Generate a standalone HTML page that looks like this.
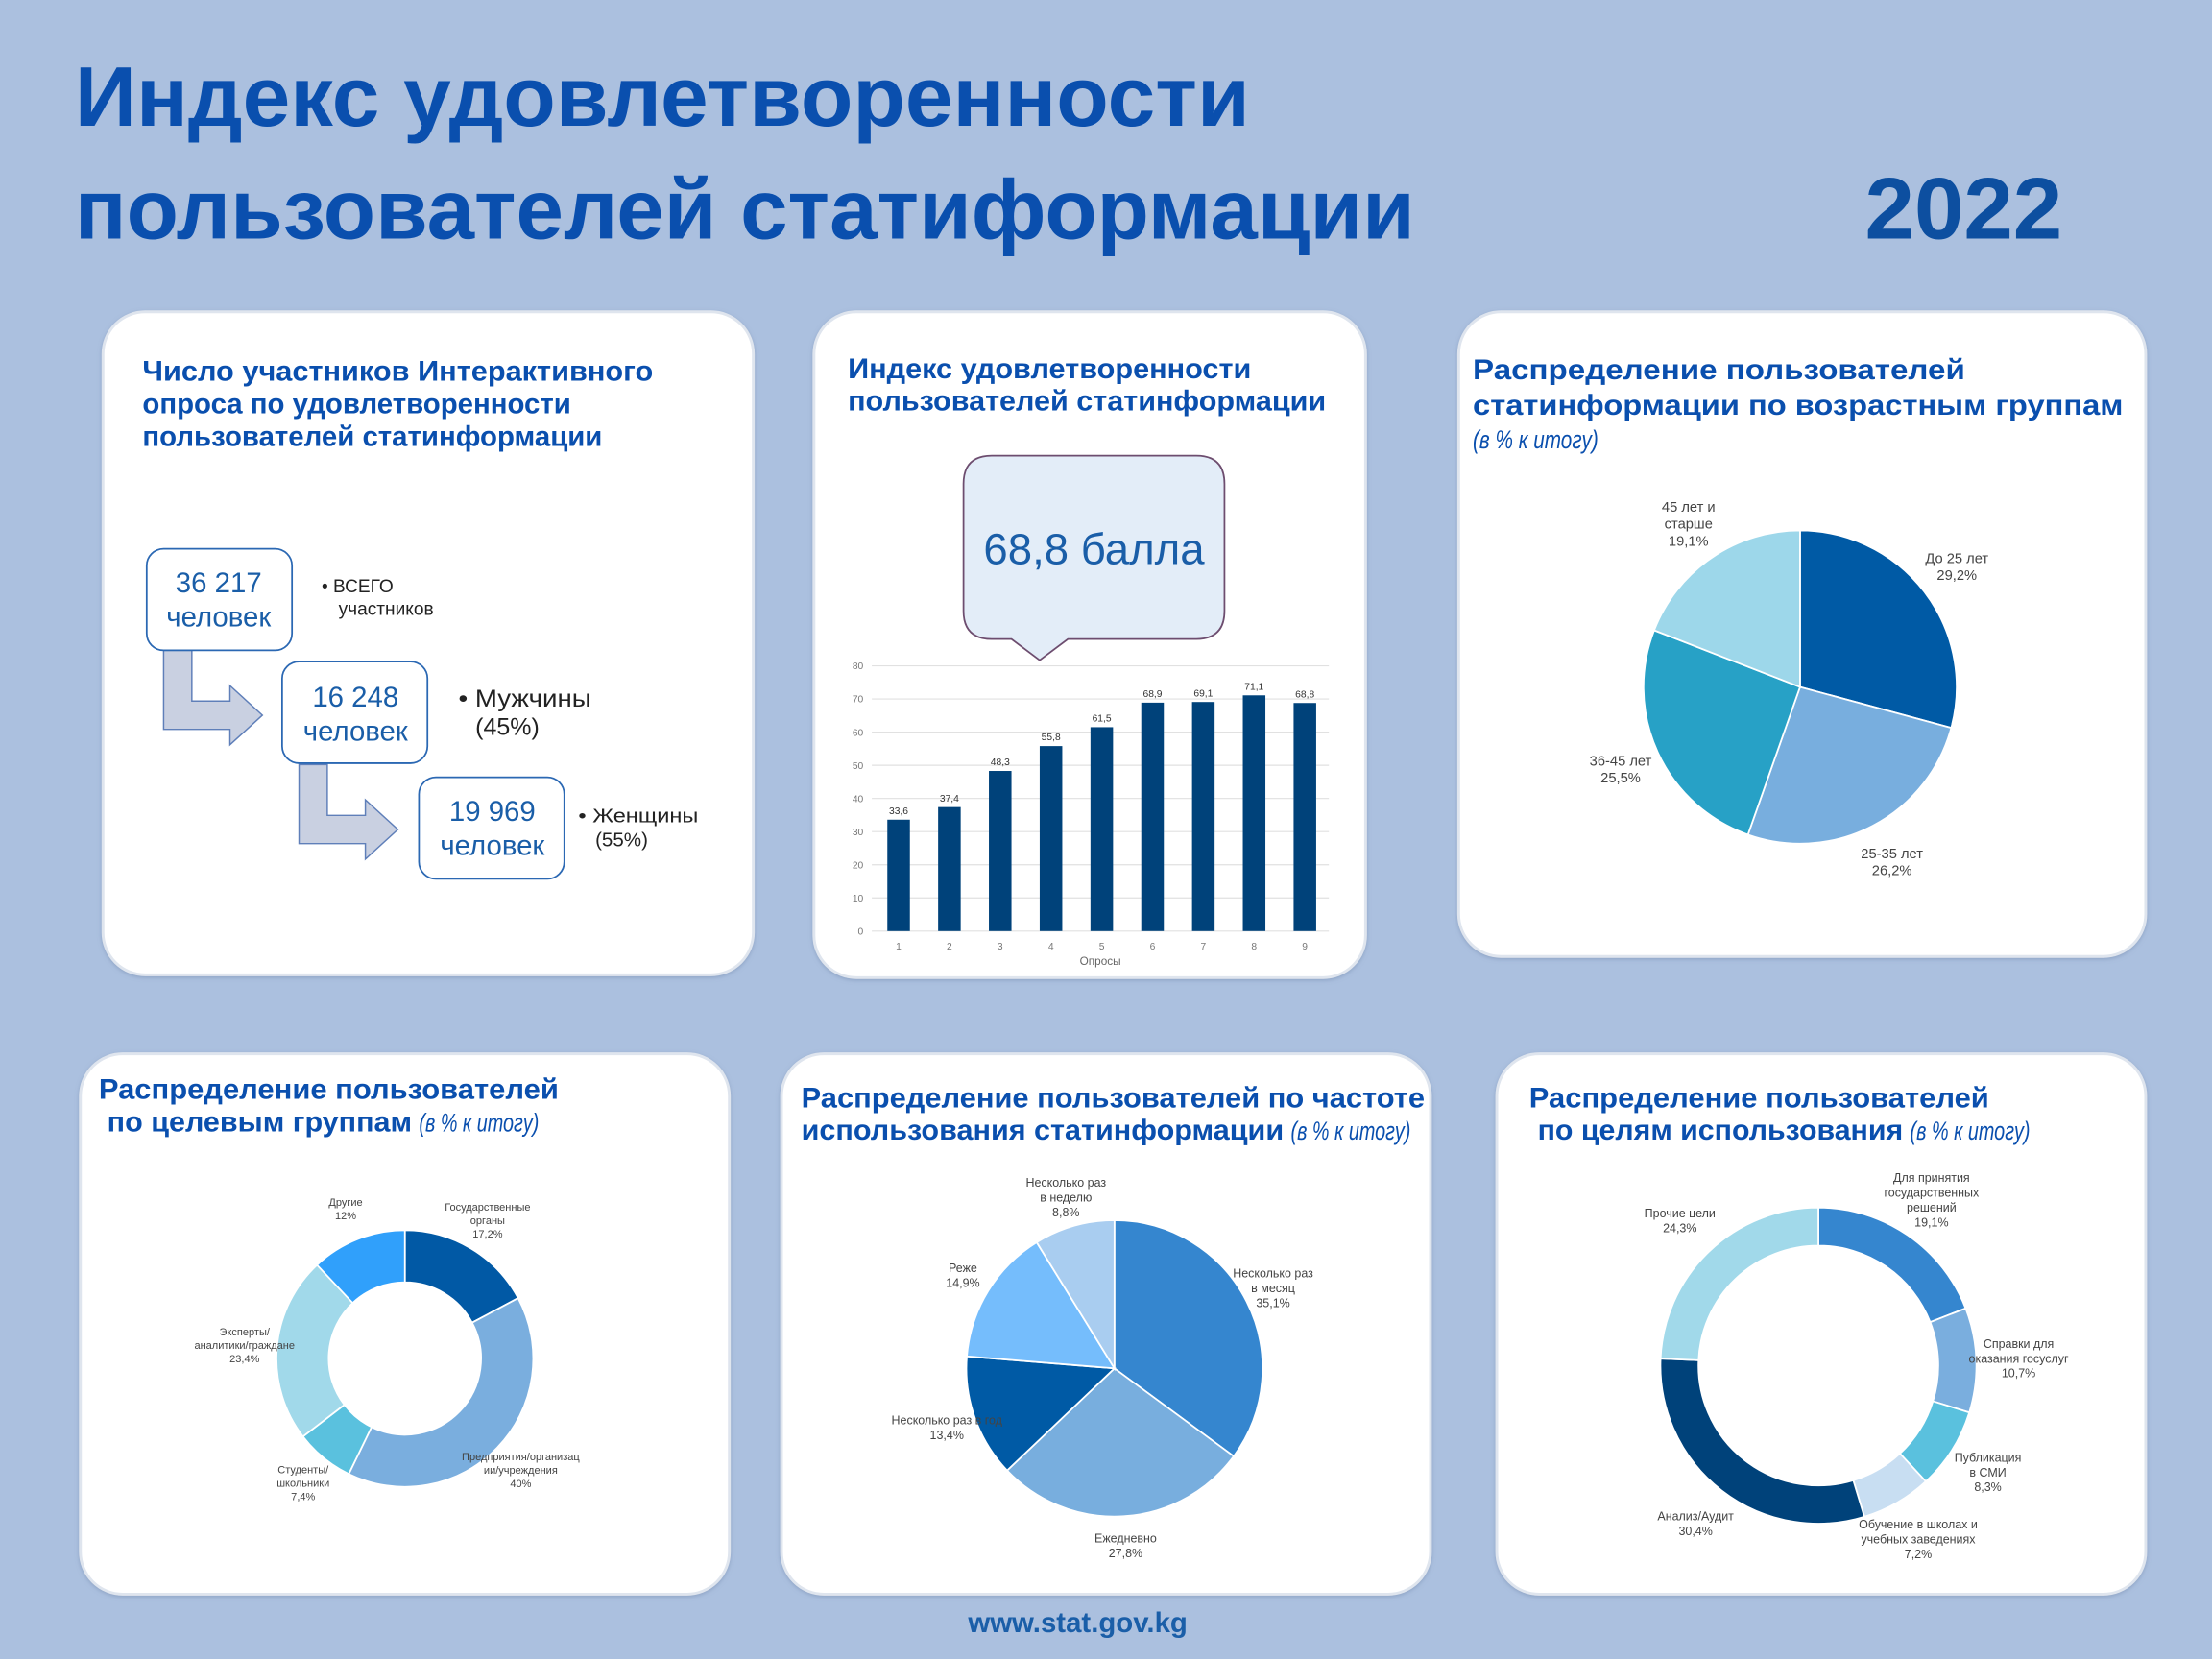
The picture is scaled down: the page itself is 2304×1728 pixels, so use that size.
<!DOCTYPE html>
<html><head><meta charset="utf-8">
<style>
html,body{margin:0;padding:0;background:#abc0df;}
svg{display:block;}
text{font-family:"Liberation Sans","DejaVu Sans",sans-serif;}
</style></head>
<body>
<svg id="root" width="2304" height="1728" viewBox="0 0 1568 1176" xmlns="http://www.w3.org/2000/svg">
<defs>
<filter id="sh" x="-5%" y="-5%" width="110%" height="110%"><feDropShadow dx="0" dy="1" stdDeviation="1.5" flood-color="#6f86aa" flood-opacity="0.5"/></filter>
</defs>
<rect x="0" y="0" width="1568" height="1176" fill="#abc0df"/>
<g fill="#0a4fae" font-weight="bold">
<text x="53" y="89" font-size="60" textLength="833" lengthAdjust="spacingAndGlyphs">Индекс удовлетворенности</text>
<text x="53" y="169" font-size="60" textLength="950" lengthAdjust="spacingAndGlyphs">пользователей статиформации</text>
</g>
<text x="1322" y="169" font-size="62" font-weight="bold" fill="#0d4fa0" textLength="140" lengthAdjust="spacingAndGlyphs">2022</text>

<g fill="#ffffff" stroke="#dfe5ee" stroke-width="2" filter="url(#sh)">
<rect x="73" y="221" width="461" height="470" rx="30"/>
<rect x="577" y="221" width="391" height="472" rx="30"/>
<rect x="1034" y="221" width="487" height="457" rx="30"/>
<rect x="57" y="747" width="460" height="383" rx="30"/>
<rect x="554" y="747" width="460" height="383" rx="30"/>
<rect x="1061" y="747" width="460" height="383" rx="30"/>
</g>

<g fill="#0a4fae" font-weight="bold" font-size="20">
<g>
<text x="101" y="270" textLength="362" lengthAdjust="spacingAndGlyphs">Число участников Интерактивного</text>
<text x="101" y="293">опроса по удовлетворенности</text>
<text x="101" y="316">пользователей статинформации</text>
</g>
<g>
<text x="601" y="268" textLength="286" lengthAdjust="spacingAndGlyphs">Индекс удовлетворенности</text>
<text x="601" y="291" textLength="339" lengthAdjust="spacingAndGlyphs">пользователей статинформации</text>
</g>
<g>
<text x="1044" y="269" textLength="349" lengthAdjust="spacingAndGlyphs">Распределение пользователей</text>
<text x="1044" y="294" textLength="461" lengthAdjust="spacingAndGlyphs">статинформации по возрастным группам</text>
<text x="1044" y="318" font-weight="normal" font-style="italic" font-size="18" textLength="89" lengthAdjust="spacingAndGlyphs">(в % к итогу)</text>
</g>
<g>
<text x="70" y="779" textLength="326" lengthAdjust="spacingAndGlyphs">Распределение пользователей</text>
<text x="76" y="802" textLength="216" lengthAdjust="spacingAndGlyphs">по целевым группам</text>
<text x="297" y="802" font-weight="normal" font-style="italic" font-size="18" textLength="85" lengthAdjust="spacingAndGlyphs">(в % к итогу)</text>
</g>
<g>
<text x="568" y="785" textLength="442" lengthAdjust="spacingAndGlyphs">Распределение пользователей по частоте</text>
<text x="568" y="808" textLength="342" lengthAdjust="spacingAndGlyphs">использования статинформации</text>
<text x="915" y="808" font-weight="normal" font-style="italic" font-size="18" textLength="85" lengthAdjust="spacingAndGlyphs">(в % к итогу)</text>
</g>
<g>
<text x="1084" y="785" textLength="326" lengthAdjust="spacingAndGlyphs">Распределение пользователей</text>
<text x="1090" y="808" textLength="259" lengthAdjust="spacingAndGlyphs">по целям использования</text>
<text x="1354" y="808" font-weight="normal" font-style="italic" font-size="18" textLength="85" lengthAdjust="spacingAndGlyphs">(в % к итогу)</text>
</g>
</g>

<g>
<polygon points="116,461 136,461 136,497 163,497 163,486 186,507 163,528 163,517 116,517" fill="#c9d0e1" stroke="#5f7fb9" stroke-width="1"/>
<polygon points="212,542 232,542 232,578 259,578 259,567 282,588 259,609 259,598 212,598" fill="#c9d0e1" stroke="#5f7fb9" stroke-width="1"/>
<g fill="#ffffff" stroke="#2b68b3" stroke-width="1.2">
<rect x="104" y="389" width="103" height="72" rx="12"/>
<rect x="200" y="469" width="103" height="72" rx="12"/>
<rect x="297" y="551" width="103" height="72" rx="12"/>
</g>
<g fill="#1a5ea8" font-size="20" text-anchor="middle">
<text x="155" y="420">36 217</text><text x="155" y="444">человек</text>
<text x="252" y="501">16 248</text><text x="252" y="525">человек</text>
<text x="349" y="582">19 969</text><text x="349" y="606">человек</text>
</g>
<g fill="#222">
<text x="228" y="420" font-size="13">• ВСЕГО</text>
<text x="240" y="436" font-size="13">участников</text>
<text x="325" y="501" font-size="17" textLength="94" lengthAdjust="spacingAndGlyphs">• Мужчины</text>
<text x="337" y="521" font-size="17">(45%)</text>
<text x="410" y="583" font-size="14" textLength="85" lengthAdjust="spacingAndGlyphs">• Женщины</text>
<text x="422" y="600" font-size="14">(55%)</text>
</g>
</g>

<g>
<path d="M703,323 H848 Q868,323 868,343 V433 Q868,453 848,453 H757 L737,468 L717,453 H703 Q683,453 683,433 V343 Q683,323 703,323 Z" fill="#e3edf8" stroke="#6d4d6f" stroke-width="1.2"/>
<text x="775.5" y="400" font-size="31" fill="#1a5ea8" text-anchor="middle">68,8 балла</text>
</g>

<g id="bars"></g>
<g id="agepie"></g>
<g id="targetdonut"></g>
<g id="freqpie"></g>
<g id="purpdonut"></g>

<text x="764" y="1157" font-size="20" font-weight="bold" fill="#1a5ea8" text-anchor="middle">www.stat.gov.kg</text>
</svg>
<script>
const NS='http://www.w3.org/2000/svg';
const barCategories=['1','2','3','4','5','6','7','8','9'];
const barValues=[33.6,37.4,48.3,55.8,61.5,68.9,69.1,71.1,68.8];
const barValueLabels=['33,6','37,4','48,3','55,8','61,5','68,9','69,1','71,1','68,8'];
const yTicks=[0,10,20,30,40,50,60,70,80];
const ageLabels=['До 25 лет','25-35 лет','36-45 лет','45 лет и\nстарше'];
const ageValues=[29.2,26.2,25.5,19.1];
const agePct=['29,2%','26,2%','25,5%','19,1%'];
const targetLabels=['Государственные\nорганы','Предприятия/организац\nии/учреждения','Студенты/\nшкольники','Эксперты/\nаналитики/граждане','Другие'];
const targetValues=[17.2,40,7.4,23.4,12];
const targetPct=['17,2%','40%','7,4%','23,4%','12%'];
const freqLabels=['Несколько раз\nв месяц','Ежедневно','Несколько раз в год','Реже','Несколько раз\nв неделю'];
const freqValues=[35.1,27.8,13.4,14.9,8.8];
const freqPct=['35,1%','27,8%','13,4%','14,9%','8,8%'];
const purpLabels=['Для принятия\nгосударственных\nрешений','Справки для\nоказания госуслуг','Публикация\nв СМИ','Обучение в школах и\nучебных заведениях','Анализ/Аудит','Прочие цели'];
const purpValues=[19.1,10.7,8.3,7.2,30.4,24.3];
const purpPct=['19,1%','10,7%','8,3%','7,2%','30,4%','24,3%'];

function el(tag,attrs,parent){const e=document.createElementNS(NS,tag);for(const k in attrs)e.setAttribute(k,attrs[k]);parent.appendChild(e);return e;}

(function(){
  const g=document.getElementById('bars');
  const x0=618,x1=942,yBase=660,yTop=472,ymax=80;
  const yS=v=>yBase-(v/ymax)*(yBase-yTop);
  const step=(x1-x0)/barCategories.length;
  const xS=i=>x0+step*(i+0.5)+1;
  yTicks.forEach(t=>{
    const l=el('line',{x1:x0,x2:x1,y1:yS(t),y2:yS(t),stroke:'#e1e1e1','stroke-width':0.8},g);
    
    
    const tx=el('text',{x:x0-6,y:yS(t)+2.5,'font-size':7,fill:'#777','text-anchor':'end'},g);
    tx.textContent=t;
    
    
  });
  barValues.forEach((v,i)=>{
    const r=el('rect',{x:xS(i)-8,y:yS(v),width:16,height:yBase-yS(v),fill:'#00427a'},g);
    
    
    const t=el('text',{x:xS(i),y:yS(v)-4,'font-size':7,fill:'#333','text-anchor':'middle'},g);
    t.textContent=barValueLabels[i];
    
    
    const c=el('text',{x:xS(i),y:yBase+13,'font-size':7,fill:'#777','text-anchor':'middle'},g);
    c.textContent=barCategories[i];
    
    
  });
  const at=el('text',{x:(x0+x1)/2,y:yBase+24,'font-size':8,fill:'#666','text-anchor':'middle'},g);
  at.textContent='Опросы';
  
  
})();

function arcPath(cx,cy,ro,ri,a0,a1){
  const p=(r,a)=>[cx+r*Math.sin(a),cy-r*Math.cos(a)];
  const large=(a1-a0)>Math.PI?1:0;
  const [x0,y0]=p(ro,a0),[x1,y1]=p(ro,a1);
  if(ri<=0) return `M${cx},${cy} L${x0},${y0} A${ro},${ro} 0 ${large} 1 ${x1},${y1} Z`;
  const [x2,y2]=p(ri,a1),[x3,y3]=p(ri,a0);
  return `M${x0},${y0} A${ro},${ro} 0 ${large} 1 ${x1},${y1} L${x2},${y2} A${ri},${ri} 0 ${large} 0 ${x3},${y3} Z`;
}
function drawPie(id,cx,cy,ro,ri,values,labels,pcts,colors,lr,fs,lh,nameBase){
  const g=document.getElementById(id);
  const total=values.reduce((a,b)=>a+b,0);
  let a=0;
  values.forEach((v,i)=>{
    const a1=a+v/total*Math.PI*2;
    const p=el('path',{d:arcPath(cx,cy,ro,ri,a,a1),fill:colors[i],stroke:'#fff','stroke-width':1.2},g);
    
    
    const m=(a+a1)/2;
    const lx=cx+lr*Math.sin(m), ly=cy-lr*Math.cos(m);
    const lines=labels[i].split('\n').concat([pcts[i]]);
    const t=el('text',{x:lx,y:ly-(lines.length-1)*lh/2+fs/3,'font-size':fs,fill:'#444','text-anchor':'middle'},g);
    
    
    lines.forEach((s,k)=>{const ts=el('tspan',{x:lx,dy:k?lh:0},t);ts.textContent=s;});
    a=a1;
  });
}
drawPie('agepie',1276,487,111,0,ageValues,ageLabels,agePct,['#005aa5','#78aede','#27a1c6','#9dd7ea'],140,10,12,'age');
drawPie('targetdonut',287,963,91,54,targetValues,targetLabels,targetPct,['#0159a5','#7aaede','#5ac1de','#a1d9ea','#30a0fb'],114,7.5,9.5,'target');
drawPie('freqpie',790,970,105,0,freqValues,freqLabels,freqPct,['#3586cf','#78aede','#005aa5','#75bdfc','#a9cdf0'],126,8.5,10.5,'frequency');
drawPie('purpdonut',1289,968,112,85,purpValues,purpLabels,purpPct,['#3586cf','#7aaede','#5ac1de','#c8def2','#00427a','#a1d9ea'],142,8.5,10.5,'purposes');
</script>
</body></html>
